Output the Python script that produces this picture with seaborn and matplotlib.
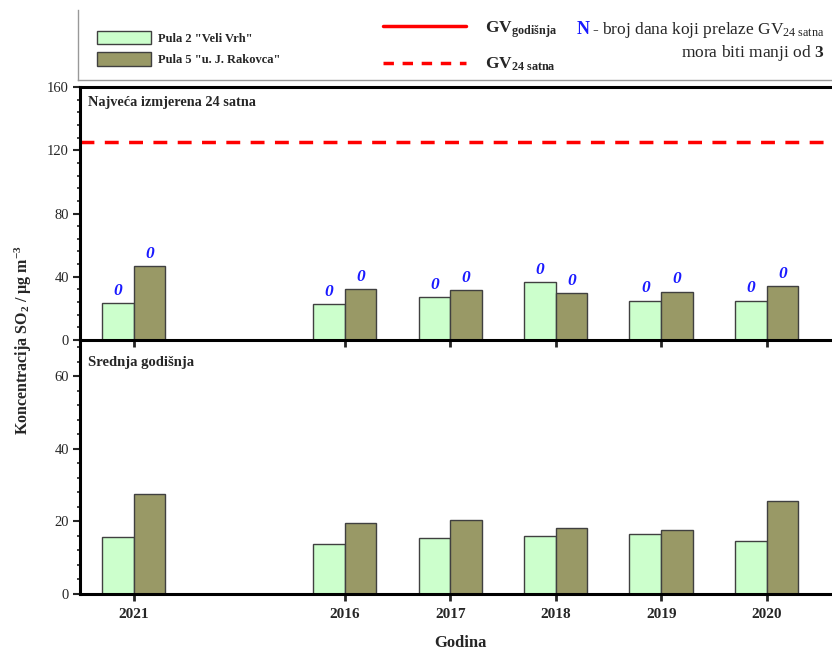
import pandas as pd
import numpy as np
import matplotlib.pyplot as plt
import seaborn as sns
from matplotlib.lines import Line2D
from matplotlib.ticker import MultipleLocator

# data
years = ["2021", "2016", "2017", "2018", "2019", "2020"]
order = ["2021", " ", "2016", "2017", "2018", "2019", "2020"]   # blank slot after 2021
stations = ['Pula 2 "Veli Vrh"', 'Pula 5 "u. J. Rakovca"']

max24_pula2 = [23.2, 22.6, 27.2, 36.5, 24.9, 24.9]
max24_pula5 = [46.8, 32.1, 31.6, 29.5, 30.6, 34.2]
mean_pula2 = [15.6, 13.9, 15.5, 16.1, 16.4, 14.5]
mean_pula5 = [27.5, 19.7, 20.3, 18.1, 17.7, 25.5]
n_pula2 = [0, 0, 0, 0, 0, 0]
n_pula5 = [0, 0, 0, 0, 0, 0]
gv_24 = 125

colors = ["#ccffcc", "#999966"]

df = pd.DataFrame({
    "godina": years * 2,
    "postaja": [stations[0]] * len(years) + [stations[1]] * len(years),
    "max24": max24_pula2 + max24_pula5,
    "mean": mean_pula2 + mean_pula5,
})

sns.set_theme(style="ticks")
plt.rcParams['font.family'] = ['Liberation Serif', 'DejaVu Serif']
plt.rcParams['mathtext.fontset'] = 'custom'
plt.rcParams['mathtext.rm'] = 'Liberation Serif'
plt.rcParams['mathtext.it'] = 'Liberation Serif:italic'
plt.rcParams['mathtext.bf'] = 'Liberation Serif:bold'

W, H = 832, 650
fig = plt.figure(figsize=(W / 100, H / 100), dpi=100)

def fx(px):
    return px / W

def fy(py):
    return 1 - py / H

ax_head = fig.add_axes([fx(78), fy(80), fx(W - 78), (80 - 10) / H])
ax2 = fig.add_axes([fx(80), fy(594), fx(W - 80), (594 - 340) / H])
ax1 = fig.add_axes([fx(80), fy(340), fx(W - 80), (340 - 87) / H])
ax1.patch.set_alpha(0)
ax2.patch.set_alpha(0)

# header box
for s in ["top", "right"]:
    ax_head.spines[s].set_visible(False)
for s in ["left", "bottom"]:
    ax_head.spines[s].set_color("#999999")
    ax_head.spines[s].set_linewidth(1)
ax_head.set_xticks([])
ax_head.set_yticks([])

# 1. upper panel - max 24h
sns.barplot(data=df, x="godina", y="max24", hue="postaja", order=order,
            hue_order=stations, palette=colors, saturation=1, width=0.6, gap=0,
            edgecolor="#404040", linewidth=1, errorbar=None, ax=ax1)
ax1.axhline(gv_24, color="red", lw=2.5, ls=(0, (4, 3)))
for cont, labs in zip(ax1.containers, [n_pula2, n_pula5]):
    ax1.bar_label(cont, labels=[str(v) for v in labs], padding=3,
                  color="#1a1aff", fontsize=12.5, fontweight="bold", fontstyle="italic")

handles, labels = ax1.get_legend_handles_labels()
ax1.get_legend().remove()

# 2. lower panel - annual mean
sns.barplot(data=df, x="godina", y="mean", hue="postaja", order=order,
            hue_order=stations, palette=colors, saturation=1, width=0.6, gap=0,
            edgecolor="#404040", linewidth=1, errorbar=None, ax=ax2, legend=False)

tick_pos = [i for i, c in enumerate(order) if c.strip()]
tick_lab = [c for c in order if c.strip()]

for ax in [ax1, ax2]:
    ax.set_xlim(-0.51, 6.62)
    ax.set_xticks(tick_pos)
    ax.set_xlabel("")
    ax.set_ylabel("")
    ax.spines["right"].set_visible(False)
    for s in ["left", "bottom", "top"]:
        ax.spines[s].set_linewidth(2.2)
        ax.spines[s].set_color("black")
    ax.tick_params(axis="y", which="major", length=5, width=1.5, labelsize=10.5, pad=3)
    ax.tick_params(axis="y", which="minor", length=2.5, width=1.2)
    ax.tick_params(axis="x", length=5, width=2)

ax1.set_ylim(0, 160)
ax1.set_yticks([0, 40, 80, 120, 160])
ax1.yaxis.set_minor_locator(MultipleLocator(8))
ax1.set_xticklabels([])

ax2.set_ylim(0, 70)
ax2.set_yticks([0, 20, 40, 60])
ax2.yaxis.set_minor_locator(MultipleLocator(4))
ax2.spines["top"].set_visible(False)
ax2.set_xticklabels(tick_lab, fontweight="bold", fontsize=11)
ax2.tick_params(axis="x", pad=5)

ax1.text(0.011, 0.937, "Najveća izmjerena 24 satna", transform=ax1.transAxes,
         fontsize=10.3, fontweight="bold", va="center", ha="left")
ax2.text(0.011, 0.913, "Srednja godišnja", transform=ax2.transAxes,
         fontsize=10.5, fontweight="bold", va="center", ha="left")

fig.text(fx(23), fy(340), r"Koncentracija SO$_\mathbf{2}$ / µg m$^{\mathbf{-3}}$",
         rotation=90, fontsize=11.5, fontweight="bold", ha="center", va="center")
fig.text(fx(460), fy(643), "Godina", fontsize=12, fontweight="bold",
         ha="center", va="center")

# legends in header
leg1 = fig.legend(handles, labels, loc="upper left", bbox_to_anchor=(fx(97), fy(31)),
                  frameon=False, borderpad=0, borderaxespad=0, handlelength=4.3,
                  handleheight=1.25, handletextpad=0.55, labelspacing=0.6,
                  prop={"family": "Liberation Serif", "weight": "bold", "size": 9})
for p in leg1.get_patches():
    p.set_edgecolor("#404040")

gv_handles = [Line2D([], [], color="red", lw=2.5),
              Line2D([], [], color="red", lw=2.5, ls=(0, (3, 2.5)))]
gv_labels = [r"GV$_{\mathbf{godišnja}}$", r"GV$_{\mathbf{24\ satna}}$"]
fig.legend(gv_handles, gv_labels, loc="upper left", bbox_to_anchor=(fx(383), fy(19)),
           frameon=False, borderpad=0, borderaxespad=0, handlelength=4.8,
           handletextpad=1.1, labelspacing=0.95,
           prop={"family": "Liberation Serif", "weight": "bold", "size": 12.5})

fig.text(fx(577), fy(30), "N", color="#1a1aff", fontsize=13, fontweight="bold",
         ha="left", va="center")
fig.text(fx(592), fy(30), r"- broj dana koji prelaze GV$_{\mathrm{24\ satna}}$",
         fontsize=12.5, ha="left", va="center")
fig.text(fx(824), fy(53), r"mora biti manji od $\mathbf{3}$", fontsize=12.5,
         ha="right", va="center")

fig.savefig("out.png", dpi=100)
